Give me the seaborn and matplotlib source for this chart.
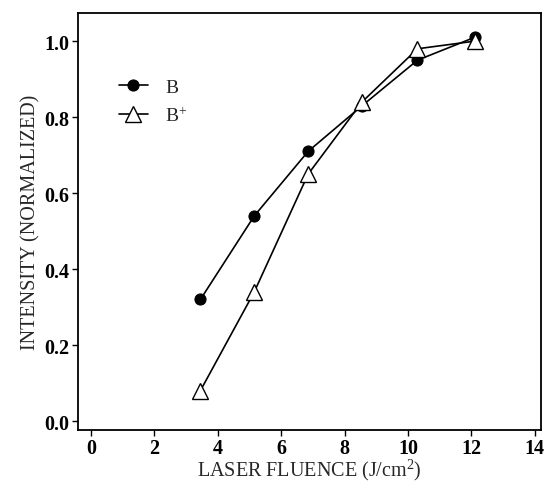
import numpy as np
import pandas as pd
import seaborn as sns
import matplotlib.pyplot as plt

# values
fluence = [3.45, 5.15, 6.85, 8.55, 10.3, 12.1]
b_neutral = [0.32, 0.54, 0.71, 0.83, 0.95, 1.01]
b_ion = [0.08, 0.34, 0.65, 0.84, 0.98, 1.00]
series_names = ['B', 'B$^{+}$']

sns.set_style('ticks')
plt.rcParams['font.family'] = ['Liberation Serif', 'DejaVu Serif']
plt.rcParams['mathtext.default'] = 'regular'

df = pd.DataFrame({
    'fluence': fluence * 2,
    'intensity': b_neutral + b_ion,
    'species': [series_names[0]] * len(fluence) + [series_names[1]] * len(fluence),
})

fig = plt.figure(figsize=(5.46, 4.85), dpi=100)
ax = fig.add_axes([0.143, 0.111, 0.848, 0.860])

sns.lineplot(data=df[df.species == series_names[0]], x='fluence', y='intensity',
             ax=ax, color='black', lw=1.2, marker='o', markersize=8,
             markerfacecolor='black', markeredgecolor='black', label=series_names[0])
sns.lineplot(data=df[df.species == series_names[1]], x='fluence', y='intensity',
             ax=ax, color='black', lw=1.2, marker='^', markersize=11,
             markerfacecolor='white', markeredgecolor='black', markeredgewidth=1.0,
             label=series_names[1])

ax.set_xlim(-0.41, 14.2)
ax.set_ylim(-0.024, 1.074)
ax.set_xticks(np.arange(0, 15, 2))
ax.set_yticks(np.arange(0, 1.01, 0.2))
ax.set_yticklabels([f'{v:.1f}' for v in np.arange(0, 1.01, 0.2)])
ax.tick_params(direction='out', length=4, width=1, labelsize=14.5, colors='black', pad=2)
for lab in ax.get_xticklabels() + ax.get_yticklabels():
    lab.set_fontweight('bold')
for sp in ax.spines.values():
    sp.set_linewidth(1.3)
    sp.set_color('black')

ax.set_xlabel('LASER FLUENCE (J/cm$^{2}$)', fontsize=14.5, labelpad=-1)
ax.set_ylabel('INTENSITY (NORMALIZED)', fontsize=14.5, labelpad=3)

ax.legend(loc='upper left', bbox_to_anchor=(0.05, 0.885), frameon=False,
          fontsize=14, handlelength=1.5, handletextpad=0.9, labelspacing=0.5)

fig.savefig('out.png', dpi=100)
